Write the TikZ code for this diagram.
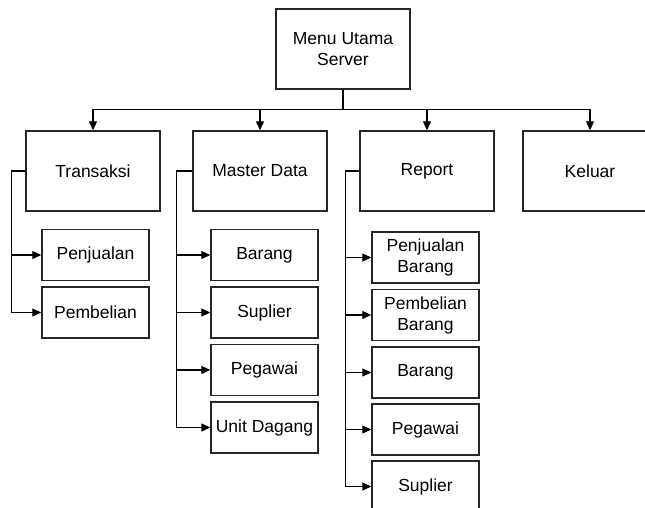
\documentclass[tikz,border=0pt]{standalone}
\usepackage{fontspec}
\setmainfont{Liberation Sans}
\usetikzlibrary{arrows,arrows.meta}

\begin{document}
\begin{tikzpicture}[x=1pt,y=-1pt]
\tikzstyle{menu}=[rectangle,draw=black!85,line width=1.4pt,minimum width=134pt,minimum height=80pt,inner sep=2pt,align=center,font=\fontsize{17.5}{21}\selectfont]
\tikzstyle{submenu}=[rectangle,draw=black!85,line width=1.4pt,minimum width=107pt,minimum height=51pt,inner sep=1pt,align=center,font=\fontsize{17.5}{21}\selectfont]
\tikzstyle{link}=[line width=1.1pt,-{Triangle[length=9pt,width=8pt]}]
\clip (0,0) rectangle (645,508);
% menu utama
\node[menu] (menu) at (343,49) {Menu Utama\\Server};
\node[menu] (trans) at (93,171) {Transaksi};
\node[menu] (master) at (260,171) {Master Data};
\node[menu] (report) at (427,171) {Report};
\node[menu] (keluar) at (590,171) {Keluar};
\draw[link] (menu.south) -- ++(0,19.5) -| (trans.north);
\draw[link] (menu.south) -- ++(0,19.5) -| (master.north);
\draw[link] (menu.south) -- ++(0,19.5) -| (report.north);
\draw[link] (menu.south) -- ++(0,19.5) -| (keluar.north);
% transaksi
\node[submenu] (tjual) at (95.5,255) {Penjualan};
\node[submenu] (tbeli) at (95.5,312.5) {Pembelian};
\draw[link] (trans.west) -- ++(-13.5,0) |- (tjual.west);
\draw[link] (trans.west) -- ++(-13.5,0) |- (tbeli.west);
% master data
\node[submenu] (mbarang) at (264.5,255) {Barang};
\node[submenu] (msuplier) at (264.5,312.5) {Suplier};
\node[submenu] (mpegawai) at (264.5,370) {Pegawai};
\node[submenu] (munit) at (264.5,427.5) {Unit Dagang};
\draw[link] (master.west) -- ++(-16,0) |- (mbarang.west);
\draw[link] (master.west) -- ++(-16,0) |- (msuplier.west);
\draw[link] (master.west) -- ++(-16,0) |- (mpegawai.west);
\draw[link] (master.west) -- ++(-16,0) |- (munit.west);
% report
\node[submenu] (rjual) at (425.5,257.5) {Penjualan\\Barang};
\node[submenu] (rbeli) at (425.5,315) {Pembelian\\Barang};
\node[submenu] (rbarang) at (425.5,372.5) {Barang};
\node[submenu] (rpegawai) at (425.5,429.5) {Pegawai};
\node[submenu] (rsuplier) at (425.5,486.5) {Suplier};
\draw[link] (report.west) -- ++(-14,0) |- (rjual.west);
\draw[link] (report.west) -- ++(-14,0) |- (rbeli.west);
\draw[link] (report.west) -- ++(-14,0) |- (rbarang.west);
\draw[link] (report.west) -- ++(-14,0) |- (rpegawai.west);
\draw[link] (report.west) -- ++(-14,0) |- (rsuplier.west);
\end{tikzpicture}
\end{document}
